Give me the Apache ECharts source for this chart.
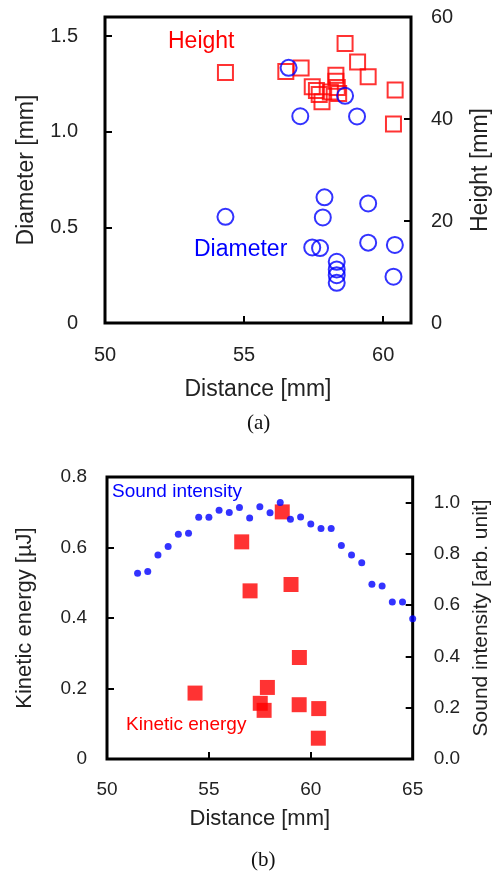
<html lang="en">
<head>
    <meta charset="UTF-8">
    <title>diameter height kinetic energy</title>
</head>
<body style="margin:0;background:#fff">
    <div id="container" style="width:500px;height:875px"></div>

    <script src="https://cdn.jsdelivr.net/npm/echarts@6/dist/echarts.min.js"></script>
    <script>
        // (a) diameter + height vs distance
        var diamDist = [54.33, 56.6, 57.02, 58.63, 59.06, 57.89, 57.83, 57.45, 57.73, 58.33, 58.33, 58.33, 58.33, 59.46, 59.46, 60.42, 60.37];
        var diamVal = [0.555, 1.334, 1.081, 1.188, 1.08, 0.657, 0.552, 0.395, 0.392, 0.32, 0.28, 0.25, 0.21, 0.625, 0.42, 0.408, 0.242];
        var heightDist = [54.33, 56.5, 57.05, 58.63, 59.08, 59.46, 60.43, 60.37, 57.45, 57.6, 57.7, 57.8, 58.1, 58.3, 58.3, 58.35, 58.4];
        var heightVal = [49.1, 49.3, 50.0, 54.8, 51.2, 48.3, 45.7, 39.0, 46.3, 45.6, 44.8, 43.4, 45.3, 48.6, 47.4, 46.2, 45.0];

        // (b) kinetic energy + sound intensity vs distance
        var soundDist = [51.5, 52, 52.5, 53, 53.5, 54, 54.5, 55, 55.5, 56, 56.5, 57, 57.5, 58,
                         58.5, 59, 59.5, 60, 60.5, 61, 61.5, 62, 62.5, 63, 63.5, 64, 64.5, 65];
        var soundVal = [0.725, 0.731, 0.796, 0.829, 0.877, 0.881, 0.943, 0.943, 0.970, 0.962, 0.981, 0.940, 0.984, 0.961,
                        1.001, 0.935, 0.944, 0.917, 0.899, 0.899, 0.833, 0.796, 0.766, 0.682, 0.675, 0.612, 0.612, 0.547];
        var keDist = [54.32, 56.61, 57.02, 58.6, 59.03, 59.44, 59.43, 57.87, 57.52, 57.71, 60.39, 60.37];
        var keVal = [0.187, 0.616, 0.477, 0.701, 0.495, 0.288, 0.154, 0.203, 0.158, 0.138, 0.143, 0.059];

        function pairs(xs, ys) {
            return xs.map(function (x, i) { return [x, ys[i]]; });
        }

        var RED = '#ff0000';
        var BLUE = '#0000ff';
        var TXT = '#222222';
        var FONT = '"Liberation Sans", Arial, sans-serif';

        function tick() {
            return { show: true, inside: true, length: 7, lineStyle: { color: '#000', width: 2 } };
        }
        function onlyMultiples(step, fmt) {
            return function (v) {
                var k = Math.round(v / step);
                if (Math.abs(k * step - v) > 1e-6) return '';
                return fmt(v);
            };
        }

        var myChart = echarts.init(document.getElementById('container'));
        var option = {
            backgroundColor: '#fff',
            animation: false,
            textStyle: { fontFamily: FONT },
            grid: [
                { left: 105, top: 17, width: 309, height: 306, show: true, borderColor: '#000', borderWidth: 3 },
                { left: 107, top: 477, width: 310, height: 282, show: true, borderColor: '#000', borderWidth: 3 }
            ],
            xAxis: [{
                gridIndex: 0, type: 'value', min: 50, max: 61, interval: 5,
                name: 'Distance [mm]', nameLocation: 'middle', nameGap: 55,
                nameTextStyle: { fontSize: 23, color: TXT, fontFamily: FONT },
                axisLine: { show: false }, axisTick: tick(), splitLine: { show: false },
                axisLabel: { fontSize: 20, color: TXT, margin: 22, formatter: onlyMultiples(5, function (v) { return String(v); }) }
            }, {
                gridIndex: 1, type: 'value', min: 50, max: 65, interval: 5,
                name: 'Distance [mm]', nameLocation: 'middle', nameGap: 49,
                nameTextStyle: { fontSize: 22, color: TXT, fontFamily: FONT },
                axisLine: { show: false }, axisTick: tick(), splitLine: { show: false },
                axisLabel: { fontSize: 19, color: TXT, margin: 21 }
            }],
            yAxis: [{
                gridIndex: 0, type: 'value', min: 0, max: 1.6, interval: 0.5, position: 'left',
                name: 'Diameter [mm]', nameLocation: 'middle', nameGap: 67, nameRotate: 90,
                nameTextStyle: { fontSize: 23, color: TXT, fontFamily: FONT },
                axisLine: { show: false }, axisTick: tick(), splitLine: { show: false },
                axisLabel: { fontSize: 20, color: TXT, margin: 27,
                    formatter: onlyMultiples(0.5, function (v) { return v === 0 ? '0' : v.toFixed(1); }) }
            }, {
                gridIndex: 0, type: 'value', min: 0, max: 60, interval: 20, position: 'right',
                name: 'Height [mm]', nameLocation: 'middle', nameGap: 58, nameRotate: 90,
                nameTextStyle: { fontSize: 23, color: TXT, fontFamily: FONT },
                axisLine: { show: false }, axisTick: tick(), splitLine: { show: false },
                axisLabel: { fontSize: 20, color: TXT, margin: 20 }
            }, {
                gridIndex: 1, type: 'value', min: 0, max: 0.8, interval: 0.2, position: 'left',
                name: 'Kinetic energy [\u00b5J]', nameLocation: 'middle', nameGap: 71, nameRotate: 90,
                nameTextStyle: { fontSize: 22, color: TXT, fontFamily: FONT },
                axisLine: { show: false }, axisTick: tick(), splitLine: { show: false },
                axisLabel: { fontSize: 19, color: TXT, margin: 20,
                    formatter: function (v) { return v === 0 ? '0' : v.toFixed(1); } }
            }, {
                gridIndex: 1, type: 'value', min: 0, max: 1.1, interval: 0.2, position: 'right',
                name: 'Sound intensity [arb. unit]', nameLocation: 'middle', nameGap: 56, nameRotate: 90,
                nameTextStyle: { fontSize: 21, color: TXT, fontFamily: FONT },
                axisLine: { show: false }, axisTick: tick(), splitLine: { show: false },
                axisLabel: { fontSize: 19, color: TXT, margin: 21,
                    formatter: onlyMultiples(0.2, function (v) { return v.toFixed(1); }) }
            }],
            series: [{
                name: 'Height', type: 'scatter', xAxisIndex: 0, yAxisIndex: 1,
                data: pairs(heightDist, heightVal),
                symbol: 'rect', symbolSize: 15,
                itemStyle: { color: 'rgba(0,0,0,0)', borderColor: RED, borderWidth: 2 }
            }, {
                name: 'Diameter', type: 'scatter', xAxisIndex: 0, yAxisIndex: 0,
                data: pairs(diamDist, diamVal),
                symbol: 'circle', symbolSize: 16,
                itemStyle: { color: 'rgba(0,0,0,0)', borderColor: BLUE, borderWidth: 2 }
            }, {
                name: 'Kinetic energy', type: 'scatter', xAxisIndex: 1, yAxisIndex: 2,
                data: pairs(keDist, keVal),
                symbol: 'rect', symbolSize: 15,
                itemStyle: { color: RED }
            }, {
                name: 'Sound intensity', type: 'scatter', xAxisIndex: 1, yAxisIndex: 3,
                data: pairs(soundDist, soundVal),
                symbol: 'circle', symbolSize: 7,
                itemStyle: { color: BLUE }
            }],
            graphic: [
                { type: 'text', left: 168, top: 30, style: { text: 'Height', fill: RED, fontSize: 23, fontFamily: FONT } },
                { type: 'text', left: 194, top: 238, style: { text: 'Diameter', fill: BLUE, fontSize: 23, fontFamily: FONT } },
                { type: 'text', left: 112, top: 482, style: { text: 'Sound intensity', fill: BLUE, fontSize: 19, fontFamily: FONT } },
                { type: 'text', left: 126, top: 715, style: { text: 'Kinetic energy', fill: RED, fontSize: 19, fontFamily: FONT } },
                { type: 'text', left: 247, top: 413, style: { text: '(a)', fill: '#111', fontSize: 21, fontFamily: '"Liberation Serif", serif' } },
                { type: 'text', left: 251, top: 850, style: { text: '(b)', fill: '#111', fontSize: 21, fontFamily: '"Liberation Serif", serif' } }
            ]
        };
        myChart.setOption(option);
    </script>
</body>
</html>
